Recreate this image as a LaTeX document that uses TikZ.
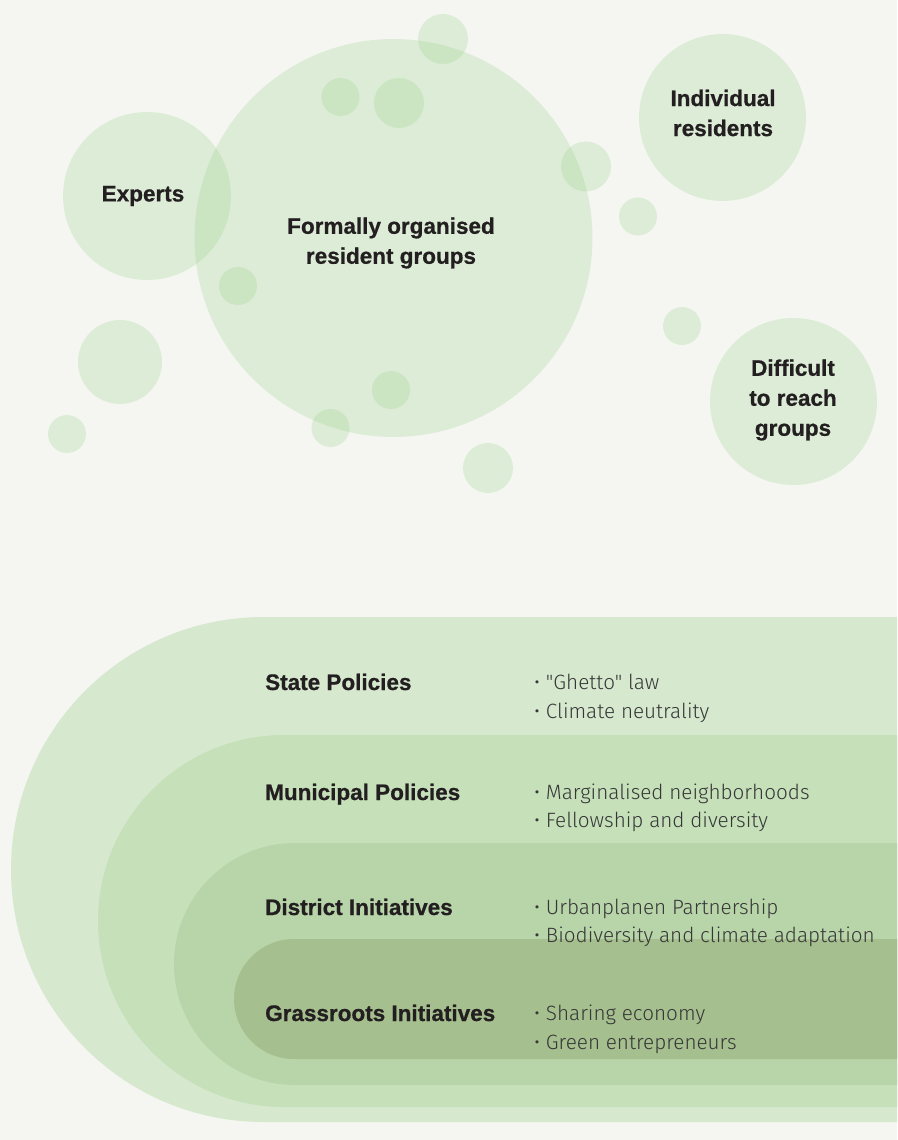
\documentclass[tikz,border=0pt]{standalone}
\usepackage{fontspec}
\setmainfont{Liberation Sans}
\newfontfamily\headfont{Liberation Sans}[BoldFeatures={FakeBold=0.7}]
\newfontfamily\lightfont{Fira Sans Light}
\definecolor{bg}{RGB}{245,246,242}
\definecolor{bub}{RGB}{153,210,138}
\definecolor{lvA}{RGB}{214,233,207}
\definecolor{lvB}{RGB}{198,224,186}
\definecolor{lvC}{RGB}{184,212,169}
\definecolor{lvD}{RGB}{165,191,143}
\definecolor{ink}{RGB}{35,31,32}
\definecolor{soft}{RGB}{55,55,55}
\tikzset{
  bubble/.style={circle, inner sep=0pt, fill=bub, fill opacity=0.25, draw=none},
  lbl/.style={font=\headfont\bfseries\fontsize{22.5}{30}\selectfont, text=ink, align=center, inner sep=0pt},
  head/.style={font=\headfont\bfseries\fontsize{22.5}{30}\selectfont, text=ink, anchor=base west, inner sep=0pt},
  item/.style={font=\lightfont\fontsize{20.7}{28.5}\selectfont, text=soft, anchor=base west, inner sep=0pt, align=left},
}
\begin{document}
\begin{tikzpicture}[x=1pt,y=1pt]
\fill[bg] (0,0) rectangle (897,-1140);
\useasboundingbox (0,0) rectangle (897,-1140);
% bubbles
\node[bubble, minimum size=398pt] (formal) at (393.5,-238) {};
\node[bubble, minimum size=168pt] (experts) at (147,-196) {};
\node[bubble, minimum size=167pt] (indiv) at (722.5,-117.5) {};
\node[bubble, minimum size=167pt] (diff) at (793.5,-401.5) {};
\node[bubble, minimum size=50pt] (b1) at (443,-39) {};
\node[bubble, minimum size=38pt] (b2) at (340.5,-97) {};
\node[bubble, minimum size=50pt] (b3) at (399,-103) {};
\node[bubble, minimum size=38pt] (b4) at (238,-286) {};
\node[bubble, minimum size=84pt] (b5) at (120,-362) {};
\node[bubble, minimum size=38pt] (b6) at (67,-434) {};
\node[bubble, minimum size=38pt] (b7) at (391,-390) {};
\node[bubble, minimum size=38pt] (b8) at (330.5,-428) {};
\node[bubble, minimum size=50pt] (b9) at (586,-166.5) {};
\node[bubble, minimum size=38pt] (b10) at (638,-216.5) {};
\node[bubble, minimum size=38pt] (b11) at (682,-326) {};
\node[bubble, minimum size=50pt] (b12) at (488,-468) {};
% bubble labels
\node[lbl] (tExperts) at (143,-196) {Experts};
\node[lbl] (tFormal) at (391,-243) {Formally organised\\resident groups};
\node[lbl] (tIndiv) at (723,-113) {Individual\\residents};
\node[lbl] (tDiff) at (793,-400) {Difficult\\to reach\\groups};
% nested levels
\fill[lvA] (897,-617) -- (263.5,-617) arc[start angle=90, end angle=270, radius=252.5] -- (897,-1122) -- cycle;
\fill[lvB] (897,-735) -- (284,-735) arc[start angle=90, end angle=270, radius=186] -- (897,-1107) -- cycle;
\fill[lvC] (897,-843) -- (295,-843) arc[start angle=90, end angle=270, radius=121] -- (897,-1085) -- cycle;
\fill[lvD] (897,-939) -- (294,-939) arc[start angle=90, end angle=270, radius=60] -- (897,-1059) -- cycle;
% headings
\node[head] (hState) at (265,-690) {State Policies};
\node[head] (hMun) at (265,-800) {Municipal Policies};
\node[head] (hDist) at (265,-915) {District Initiatives};
\node[head] (hGrass) at (265,-1021) {Grassroots Initiatives};
% items
\node[item] (iState) at (534,-718) {• "Ghetto" law\\• Climate neutrality};
\node[item] (iMun) at (534,-827.5) {• Marginalised neighborhoods\\• Fellowship and diversity};
\node[item] (iDist) at (534,-942.5) {• Urbanplanen Partnership\\• Biodiversity and climate adaptation};
\node[item] (iGrass) at (534,-1049) {• Sharing economy\\• Green entrepreneurs};
\end{tikzpicture}
\end{document}
